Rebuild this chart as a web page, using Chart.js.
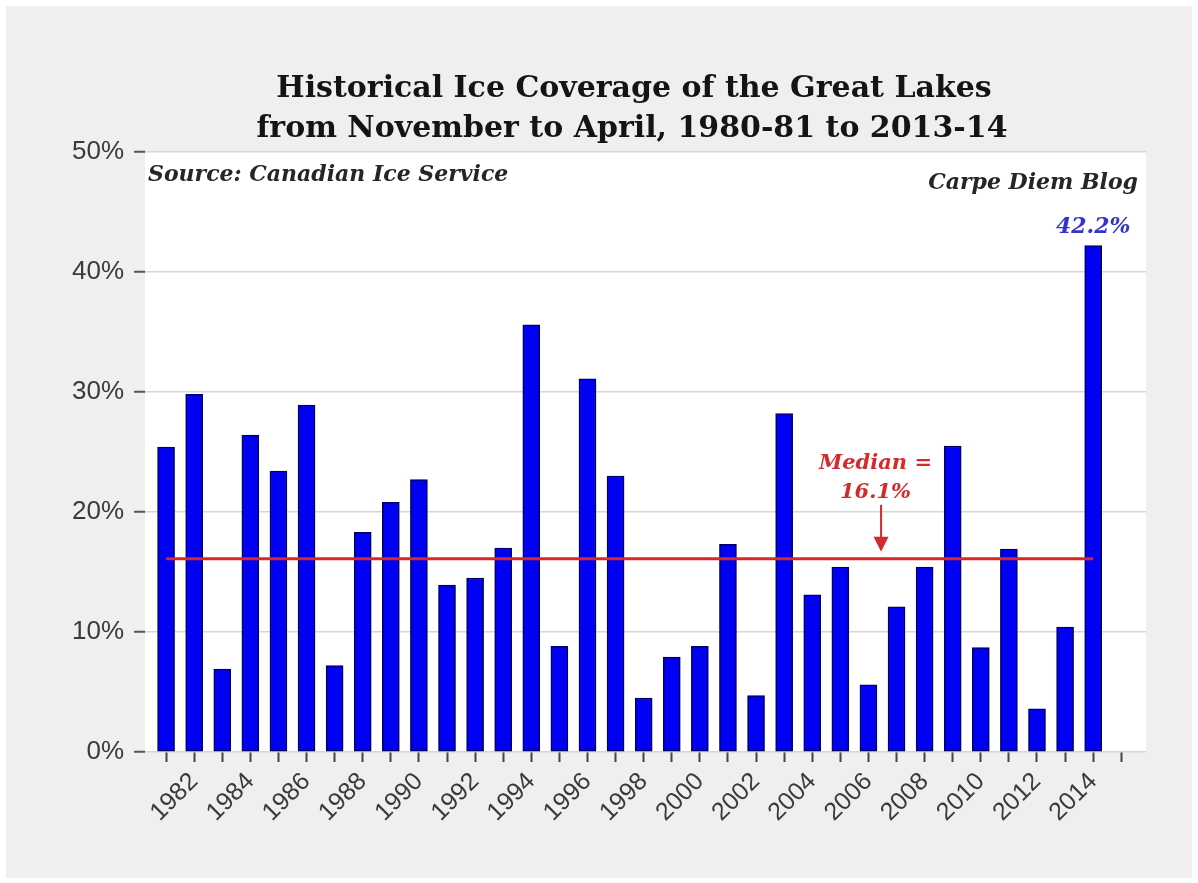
<!DOCTYPE html>
<html>
<head>
<meta charset="utf-8">
<title>Historical Ice Coverage of the Great Lakes</title>
<script src="https://cdn.jsdelivr.net/npm/chart.js@4.4.1/dist/chart.umd.min.js"></script>
<style>
  html, body { margin: 0; padding: 0; background: #fff; }
  canvas { display: block; }
</style>
</head>
<body>
<canvas id="chart" width="1198" height="883"></canvas>
<script>
// ice coverage by winter, labelled with the year the winter ends
const years = [1981, 1982, 1983, 1984, 1985, 1986, 1987, 1988, 1989, 1990,
               1991, 1992, 1993, 1994, 1995, 1996, 1997, 1998, 1999, 2000,
               2001, 2002, 2003, 2004, 2005, 2006, 2007, 2008, 2009, 2010,
               2011, 2012, 2013, 2014];
const coverage = [25.4, 29.8, 6.9, 26.4, 23.4, 28.9, 7.2, 18.3, 20.8, 22.7,
                  13.9, 14.5, 17.0, 35.6, 8.8, 31.1, 23.0, 4.5, 7.9, 8.8,
                  17.3, 4.7, 28.2, 13.1, 15.4, 5.6, 12.1, 15.4, 25.5, 8.7,
                  16.9, 3.6, 10.4, 42.2];
const medianCoverage = 16.1;
const tickYears = [1982, 1984, 1986, 1988, 1990, 1992, 1994, 1996, 1998, 2000,
                   2002, 2004, 2006, 2008, 2010, 2012, 2014];
const yTicks = [0, 10, 20, 30, 40, 50];

const titleLines = ["Historical Ice Coverage of the Great Lakes",
                    "from November to April, 1980-81 to 2013-14"];
const sourceNote = "Source: Canadian Ice Service";
const blogNote = "Carpe Diem Blog";

const SERIF = '"DejaVu Serif", "Liberation Serif", serif';
const SANS = '"Liberation Sans", Arial, sans-serif';

// gray panel + white plot area
const backdrop = {
    id: "backdrop",
    beforeDraw(chart) {
        const { ctx, chartArea: a } = chart;
        ctx.save();
        ctx.fillStyle = "#ffffff";
        ctx.fillRect(0, 0, chart.width, chart.height);
        ctx.fillStyle = "#efefef";
        ctx.fillRect(6, 6, chart.width - 12, chart.height - 11);
        ctx.fillStyle = "#ffffff";
        ctx.fillRect(a.left, a.top, a.right - a.left, a.bottom - a.top);
        ctx.restore();
    }
};

// titles and notes
const notes = {
    id: "notes",
    afterDatasetsDraw(chart) {
        const { ctx } = chart;
        const xs = chart.scales.x, ys = chart.scales.y;
        ctx.save();

        ctx.fillStyle = "#141414";
        ctx.textAlign = "center";
        ctx.textBaseline = "alphabetic";
        ctx.font = "bold 30px " + SERIF;
        ctx.fillText(titleLines[0], 634, 97);
        ctx.fillText(titleLines[1], 632, 137);

        ctx.font = "italic bold 22px " + SERIF;
        ctx.textBaseline = "middle";
        ctx.textAlign = "left";
        ctx.fillStyle = "#262626";
        ctx.fillText(sourceNote, 148, 175);
        ctx.textAlign = "right";
        ctx.fillText(blogNote, 1138, 183);

        // value over the last bar
        const meta = chart.getDatasetMeta(0);
        const last = meta.data[meta.data.length - 1];
        ctx.textAlign = "center";
        ctx.fillStyle = "#3434c8";
        ctx.font = "italic bold 22px " + SERIF;
        ctx.fillText(coverage[coverage.length - 1].toFixed(1) + "%", last.x, last.y - 18);

        // median note with arrow
        const my = ys.getPixelForValue(medianCoverage);
        const tx = xs.getPixelForValue(2006.25);
        const ax = xs.getPixelForValue(2006.45);
        ctx.fillStyle = "#d42a2a";
        ctx.strokeStyle = "#d42a2a";
        ctx.font = "italic bold 21px " + SERIF;
        ctx.fillText("Median =", tx, my - 95);
        ctx.fillText(medianCoverage.toFixed(1) + "%", tx, my - 66);
        ctx.lineWidth = 2;
        ctx.beginPath();
        ctx.moveTo(ax, my - 54);
        ctx.lineTo(ax, my - 20);
        ctx.stroke();
        ctx.beginPath();
        ctx.moveTo(ax - 7.5, my - 22);
        ctx.lineTo(ax + 7.5, my - 22);
        ctx.lineTo(ax, my - 7);
        ctx.closePath();
        ctx.fill();

        ctx.restore();
    }
};

new Chart(document.getElementById("chart"), {
    type: "bar",
    data: {
        datasets: [{
            type: "bar",
            data: years.map((y, i) => ({ x: y, y: coverage[i] })),
            backgroundColor: "#0000f5",
            borderColor: "#000066",
            borderWidth: 1.5,
            borderSkipped: false,
            barThickness: 17,
            order: 1
        }, {
            type: "line",
            data: [{ x: years[0], y: medianCoverage }, { x: years[years.length - 1], y: medianCoverage }],
            borderColor: "#d62828",
            borderWidth: 3,
            pointRadius: 0,
            fill: false,
            order: 0
        }]
    },
    options: {
        responsive: false,
        animation: false,
        layout: { padding: { left: 0, top: 152, right: 52, bottom: 0 } },
        plugins: {
            legend: { display: false },
            tooltip: { enabled: false }
        },
        scales: {
            x: {
                type: "linear",
                offset: false,
                min: 1980.25,
                max: 2015.88,
                afterFit: (s) => { s.height = 131; s.paddingLeft = 0; s.paddingRight = 0; },
                border: { display: false },
                grid: { drawOnChartArea: false, offset: false, drawTicks: true, tickLength: 10, tickColor: "#444", tickWidth: 2 },
                ticks: {
                    stepSize: 1,
                    includeBounds: false,
                    autoSkip: false,
                    minRotation: 45,
                    maxRotation: 45,
                    padding: 5,
                    color: "#3a3a3a",
                    font: { family: SANS, size: 25 },
                    callback: (v) => tickYears.includes(v) ? String(v) : ""
                }
            },
            y: {
                min: 0,
                max: 50,
                afterFit: (s) => { s.width = 145; },
                afterBuildTicks: (s) => { s.ticks = yTicks.map((v) => ({ value: v })); },
                border: { display: false },
                grid: { color: "#d6d6d6", lineWidth: 1.5, tickLength: 11, tickColor: "#555", tickWidth: 2 },
                ticks: {
                    padding: 10,
                    color: "#3a3a3a",
                    font: { family: SANS, size: 26 },
                    callback: (v) => v + "%"
                }
            }
        }
    },
    plugins: [backdrop, notes]
});
</script>
</body>
</html>
